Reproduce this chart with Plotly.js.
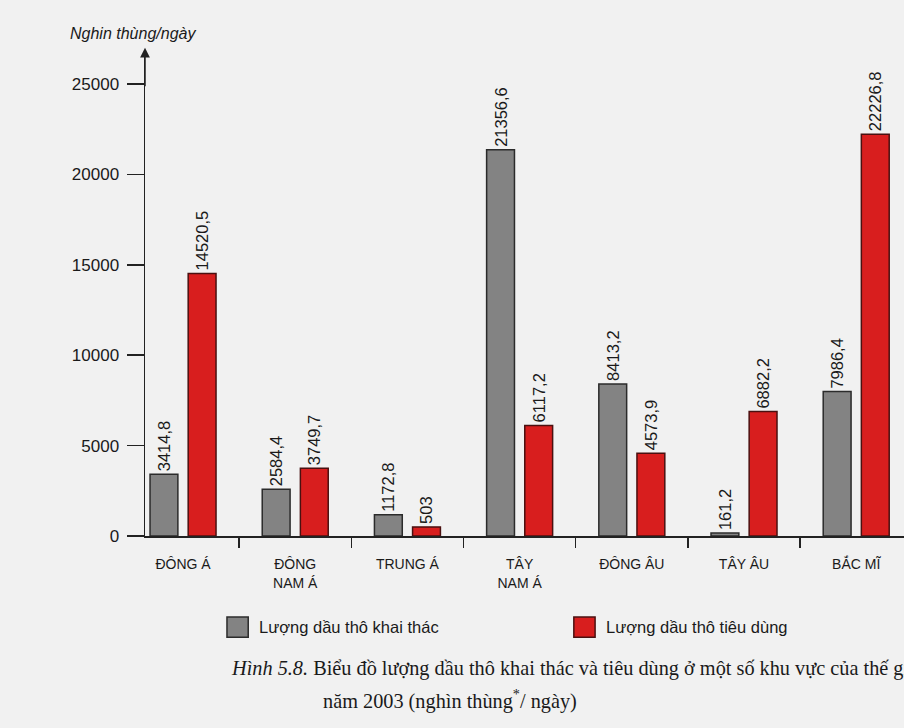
<!DOCTYPE html>
<html>
<head>
<meta charset="utf-8">
<script src="https://cdn.plot.ly/plotly-3.0.1.min.js"></script>
<style>html,body{margin:0;padding:0;background:#f1f1f1;}#chart{width:904px;height:728px;}</style>
</head>
<body>
<div id="chart"></div>
<script>
const categories = ["ĐÔNG Á", "ĐÔNG<br>NAM Á", "TRUNG Á", "TÂY<br>NAM Á", "ĐÔNG ÂU", "TÂY ÂU", "BẮC MĨ"];
const khaiThac = [3414.8, 2584.4, 1172.8, 21356.6, 8413.2, 161.2, 7986.4];
const tieuDung = [14520.5, 3749.7, 503, 6117.2, 4573.9, 6882.2, 22226.8];
const yTickVals = [0, 5000, 10000, 15000, 20000, 25000];
const seriesNames = ["Lượng dầu thô khai thác", "Lượng dầu thô tiêu dùng"];
const seriesColors = ['#838383', '#d81e1e'];
const seriesLines = ['#2b2b2b', '#4a1010'];

const fmt = v => String(v).replace('.', ',');
const narrow = "Liberation Sans Narrow, Arial Narrow, Liberation Sans, Arial, sans-serif";

const traces = [khaiThac, tieuDung].map((vals, i) => ({
  type: 'bar', name: seriesNames[i], x: categories, y: vals,
  text: vals.map(fmt), textposition: 'outside', textangle: -90, constraintext: 'none',
  textfont: {family: narrow, size: 16.5, color: '#1a1a1a'},
  cliponaxis: false, showlegend: false,
  marker: {color: seriesColors[i], line: {color: seriesLines[i], width: 1.5}}
}));

// legend drawn as key boxes + labels (positions in paper fractions)
const legendBoxX = [0.108, 0.565];
const shapes = seriesNames.map((n, i) => ({
  type: 'rect', xref: 'paper', yref: 'paper',
  x0: legendBoxX[i], x1: legendBoxX[i] + 0.028, y0: -0.2105, y1: -0.1685,
  fillcolor: seriesColors[i], line: {color: seriesLines[i], width: 1.5}
}));
const legendTexts = seriesNames.map((n, i) => ({
  xref: 'paper', yref: 'paper', x: legendBoxX[i] + 0.04, y: -0.189,
  xanchor: 'left', yanchor: 'middle', showarrow: false, text: n,
  font: {family: narrow, size: 16.5, color: '#1a1a1a'}
}));

const layout = {
  width: 904, height: 728,
  paper_bgcolor: '#f1f1f1', plot_bgcolor: 'rgba(0,0,0,0)',
  margin: {l: 145, r: 0, t: 55, b: 192},
  barmode: 'group', bargap: 0.32, bargroupgap: 0.27,
  font: {family: narrow, color: '#1a1a1a'},
  showlegend: false,
  xaxis: {
    type: 'category', range: [-0.339, 6.426],
    showline: true, linecolor: '#222', linewidth: 1.5,
    ticks: 'outside', tickson: 'boundaries', ticklen: 10, tickwidth: 1.5, tickcolor: '#222',
    ticklabelstandoff: 15, tickangle: 0,
    tickfont: {family: narrow, size: 14, color: '#1a1a1a'},
    showgrid: false, zeroline: false, fixedrange: true
  },
  yaxis: {
    range: [0, 26604],
    tickvals: yTickVals, ticktext: yTickVals.map(String),
    showline: true, linecolor: '#222', linewidth: 1.5,
    ticks: 'outside', ticklen: 17, tickwidth: 1.5, tickcolor: '#222',
    ticklabelstandoff: 4,
    tickfont: {family: narrow, size: 17, color: '#1a1a1a'},
    showgrid: false, zeroline: false, fixedrange: true
  },
  shapes: shapes,
  annotations: [
    {xref: 'paper', yref: 'paper', x: 0, y: 1.015, ax: 0, ay: 40, axref: 'pixel', ayref: 'pixel',
     showarrow: true, arrowhead: 2, arrowsize: 1.3, arrowwidth: 1.5, arrowcolor: '#222', text: ''},
    {xref: 'paper', yref: 'paper', x: -0.016, y: 1.022, xanchor: 'center', yanchor: 'bottom',
     text: '<i>Nghin thùng/ngày</i>', showarrow: false,
     font: {family: narrow, size: 16, color: '#1a1a1a'}},
    {xref: 'paper', yref: 'paper', x: 0.111, y: -0.275, xanchor: 'left', yanchor: 'middle', showarrow: false,
     text: '<i>Hình 5.8.</i> Biểu đồ lượng dầu thô khai thác và tiêu dùng ở một số khu vực của thế giới,',
     font: {family: 'Liberation Serif, Times New Roman, serif', size: 20.3, color: '#1a1a1a'}},
    {xref: 'paper', yref: 'paper', x: 0.232, y: -0.339, xanchor: 'left', yanchor: 'middle', showarrow: false,
     text: 'năm 2003 (nghìn thùng<sup>*</sup>/ ngày)',
     font: {family: 'Liberation Serif, Times New Roman, serif', size: 20.3, color: '#1a1a1a'}}
  ].concat(legendTexts)
};

Plotly.newPlot('chart', traces, layout, {staticPlot: true, displayModeBar: false});
</script>
</body>
</html>
